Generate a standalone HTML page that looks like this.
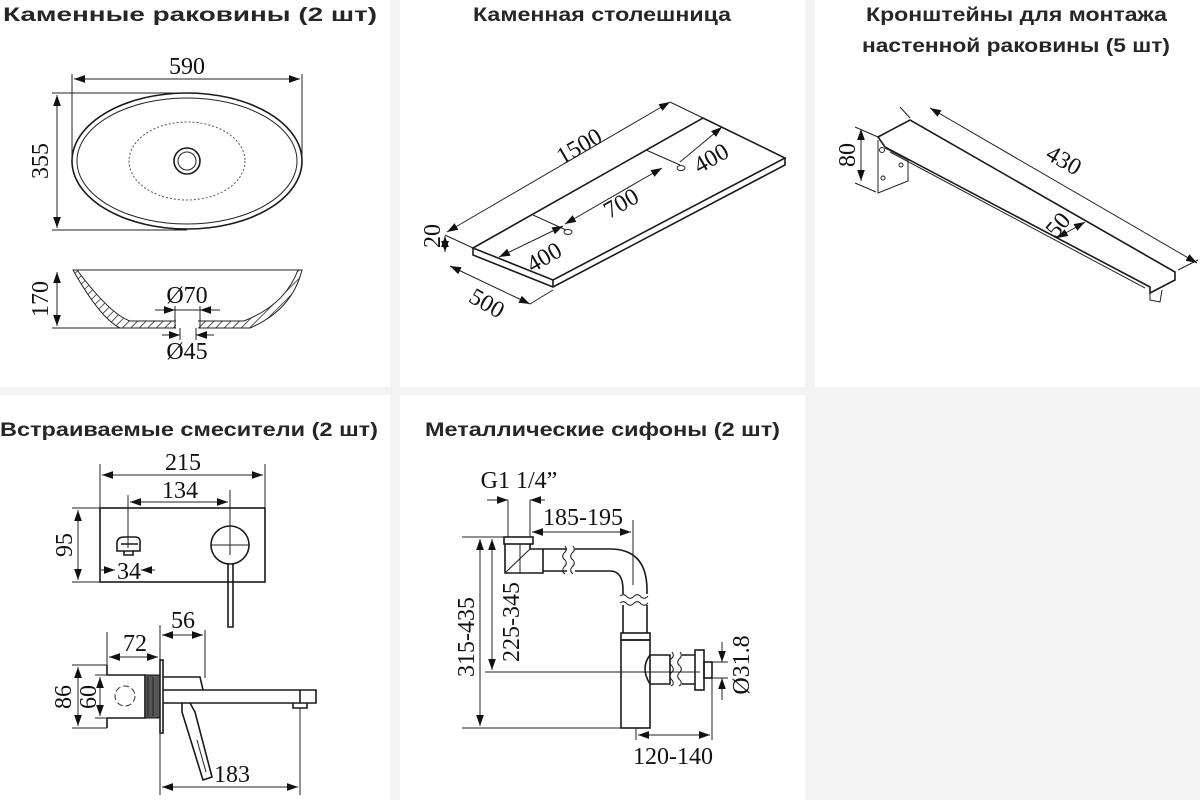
<!DOCTYPE html>
<html><head><meta charset="utf-8"><style>
html,body{margin:0;padding:0;background:#f3f3f3}
svg{display:block}
.t{font-family:"Liberation Sans","DejaVu Sans",sans-serif;font-weight:bold;font-size:19px;fill:#262626}
.d{font-family:"Liberation Serif","DejaVu Serif",serif;font-size:24px;fill:#111}
.l{stroke:#222;stroke-width:1;fill:none}
.b{stroke:#1a1a1a;stroke-width:1.6;fill:none}
</style></head><body>
<svg width="1200" height="800" viewBox="0 0 1200 800" xmlns="http://www.w3.org/2000/svg">
<defs>
<marker id="a" viewBox="0 0 10 10" refX="10" refY="5" markerWidth="11" markerHeight="11" markerUnits="userSpaceOnUse" orient="auto-start-reverse"><path d="M0,1.5 L10,5 L0,8.5z" fill="#111"/></marker>
<pattern id="h" width="6" height="6" patternUnits="userSpaceOnUse" patternTransform="rotate(45)"><rect width="6" height="6" fill="#fff"/><line x1="0" y1="0" x2="0" y2="6" stroke="#222" stroke-width="1.5"/></pattern>
</defs>
<rect width="1200" height="800" fill="#f3f3f3"/>
<rect x="0" y="0" width="390" height="387" fill="#fff"/>
<rect x="400" y="0" width="405" height="387" fill="#fff"/>
<rect x="815" y="0" width="385" height="387" fill="#fff"/>
<rect x="0" y="395" width="390" height="405" fill="#fff"/>
<rect x="400" y="395" width="405" height="405" fill="#fff"/>

<text class="t" x="3" y="21" textLength="374" lengthAdjust="spacingAndGlyphs">Каменные раковины (2 шт)</text>
<text class="t" x="473" y="21" textLength="258" lengthAdjust="spacingAndGlyphs">Каменная столешница</text>
<text class="t" x="866" y="21" textLength="301" lengthAdjust="spacingAndGlyphs">Кронштейны для монтажа</text>
<text class="t" x="862" y="52" textLength="308" lengthAdjust="spacingAndGlyphs">настенной раковины (5 шт)</text>
<text class="t" x="0" y="436" textLength="378" lengthAdjust="spacingAndGlyphs">Встраиваемые смесители (2 шт)</text>
<text class="t" x="425" y="436" textLength="355" lengthAdjust="spacingAndGlyphs">Металлические сифоны (2 шт)</text>

<!-- sink top -->
<ellipse class="b" cx="187" cy="161" rx="115" ry="68"/>
<ellipse class="l" cx="187" cy="161" rx="110" ry="63"/>
<ellipse cx="187" cy="161" rx="58" ry="39" fill="none" stroke="#555" stroke-dasharray="2,2"/>
<circle class="b" cx="187" cy="161" r="13"/><circle class="l" cx="187" cy="161" r="9"/>
<line class="l" x1="72" y1="74" x2="72" y2="160"/><line class="l" x1="302" y1="74" x2="302" y2="160"/>
<line class="l" x1="74" y1="79" x2="300" y2="79" marker-start="url(#a)" marker-end="url(#a)"/>
<text class="d" x="187" y="74" text-anchor="middle">590</text>
<line class="l" x1="52" y1="93" x2="187" y2="93"/><line class="l" x1="52" y1="230" x2="187" y2="230"/>
<line class="l" x1="57" y1="95" x2="57" y2="228" marker-start="url(#a)" marker-end="url(#a)"/>
<text class="d" transform="translate(48,161) rotate(-90)" text-anchor="middle">355</text>
<!-- sink side -->
<path d="M73,270 Q100,318 120,328 L250,328 Q292,310 302,270 Z" fill="url(#h)" stroke="#222"/>
<path d="M77,270 Q110,314 130,321 L244,321 Q285,305 298,270 Z" fill="#fff" stroke="#222"/>
<line class="l" x1="73" y1="270" x2="302" y2="270"/>
<rect x="176" y="318" width="22" height="11" fill="#fff"/>
<line class="l" x1="52" y1="328" x2="120" y2="328"/>
<line class="l" x1="57" y1="272" x2="57" y2="326" marker-start="url(#a)" marker-end="url(#a)"/>
<text class="d" transform="translate(48,299) rotate(-90)" text-anchor="middle">170</text>
<line class="l" x1="175" y1="306" x2="175" y2="328"/><line class="l" x1="200" y1="306" x2="200" y2="328"/>
<line class="l" x1="155" y1="310" x2="175" y2="310" marker-end="url(#a)"/><line class="l" x1="220" y1="310" x2="200" y2="310" marker-end="url(#a)"/>
<line class="l" x1="175" y1="310" x2="200" y2="310"/>
<text class="d" x="187" y="303" text-anchor="middle" font-size="20">Ø70</text>
<line class="l" x1="180" y1="328" x2="180" y2="340"/><line class="l" x1="196" y1="328" x2="196" y2="340"/>
<line class="l" x1="162" y1="335" x2="180" y2="335" marker-end="url(#a)"/><line class="l" x1="214" y1="335" x2="196" y2="335" marker-end="url(#a)"/>
<text class="d" x="187" y="359" text-anchor="middle" font-size="20">Ø45</text>

<!-- countertop -->
<path class="b" d="M473,248 L703,118 L785,158 L553,280 Z"/>
<path class="b" d="M473,248 L473,255 L553,287 L785,165 L785,158 M553,280 L553,287"/>
<line class="l" x1="447" y1="232" x2="670" y2="102" marker-start="url(#a)" marker-end="url(#a)"/>
<line class="l" x1="670" y1="102" x2="703" y2="118"/>
<line class="l" x1="445" y1="235" x2="473" y2="248"/>
<line class="l" x1="445" y1="236" x2="445" y2="252" marker-start="url(#a)" marker-end="url(#a)"/>
<text class="d" transform="translate(440,236) rotate(-90)" text-anchor="middle">20</text>
<text class="d" transform="translate(583,153) rotate(-30)" text-anchor="middle" font-size="27">1500</text>
<line class="l" x1="450" y1="266" x2="530" y2="304" marker-start="url(#a)" marker-end="url(#a)"/>
<line class="l" x1="530" y1="304" x2="553" y2="290"/>
<text class="d" transform="translate(483,310) rotate(30)" text-anchor="middle" font-size="27">500</text>
<line class="l" x1="533" y1="215" x2="566" y2="230"/>
<line class="l" x1="499" y1="257" x2="563" y2="226" marker-start="url(#a)" marker-end="url(#a)"/>
<line class="l" x1="565" y1="224" x2="662" y2="168" marker-start="url(#a)" marker-end="url(#a)"/>
<line class="l" x1="646" y1="150" x2="680" y2="165"/>
<line class="l" x1="680" y1="162" x2="722" y2="127" marker-end="url(#a)"/>
<ellipse class="l" cx="568" cy="232" rx="4" ry="2.5"/><ellipse class="l" cx="681" cy="168" rx="4" ry="2.5"/>
<text class="d" transform="translate(548,264) rotate(-30)" text-anchor="middle" font-size="27">400</text>
<text class="d" transform="translate(625,210) rotate(-30)" text-anchor="middle" font-size="27">700</text>
<text class="d" transform="translate(715,165) rotate(-30)" text-anchor="middle" font-size="27">400</text>

<!-- bracket -->
<path class="b" d="M878,137 L910,120 L1175,272 L1175,280 L1150,293 L1150,287 L885,147 Z"/>
<path class="l" d="M878,140 L878,193 L908,181 L908,160 L885,148 M1150,293 L1150,300 L1160,302 L1162,290"/>
<path class="l" d="M890,152 L1145,288"/>
<circle class="l" cx="882" cy="150" r="2.5"/><circle class="l" cx="883" cy="178" r="2"/><circle class="l" cx="901" cy="165" r="2"/>
<line class="l" x1="855" y1="127" x2="878" y2="137"/><line class="l" x1="855" y1="183" x2="876" y2="192"/>
<line class="l" x1="861" y1="129" x2="861" y2="181" marker-start="url(#a)" marker-end="url(#a)"/>
<text class="d" transform="translate(855,155) rotate(-90)" text-anchor="middle">80</text>
<line class="l" x1="900" y1="107" x2="910" y2="118"/><line class="l" x1="1178" y1="270" x2="1198" y2="260"/>
<line class="l" x1="930" y1="108" x2="1197" y2="263" marker-start="url(#a)" marker-end="url(#a)"/>
<text class="d" transform="translate(1060,167) rotate(30)" text-anchor="middle" font-size="27">430</text>
<line class="l" x1="1057" y1="238" x2="1085" y2="222" marker-start="url(#a)" marker-end="url(#a)"/>
<text class="d" transform="translate(1064,230) rotate(-50)" text-anchor="middle" font-size="27">50</text>

<!-- mixer front -->
<rect class="b" x="100" y="508" width="165" height="74"/>
<line class="l" x1="100" y1="464" x2="100" y2="508"/><line class="l" x1="265" y1="464" x2="265" y2="508"/>
<line class="l" x1="102" y1="475" x2="263" y2="475" marker-start="url(#a)" marker-end="url(#a)"/>
<text class="d" x="183" y="470" text-anchor="middle">215</text>
<line class="l" x1="128" y1="495" x2="128" y2="548"/><line class="l" x1="230" y1="490" x2="230" y2="555"/>
<line class="l" x1="130" y1="502" x2="228" y2="502" marker-start="url(#a)" marker-end="url(#a)"/>
<text class="d" x="180" y="498" text-anchor="middle">134</text>
<line class="l" x1="211" y1="545" x2="249" y2="545"/>
<circle class="b" cx="230" cy="545" r="19"/>
<path class="b" d="M228,564 L228,627 L233,627 L233,564"/>
<path class="b" d="M117,551 L117,542 Q118,537 124,537 L135,537 Q141,537 140,544 L140,551 Z M121,544 L138,544 M124,551 L124,555 L133,555 L133,551"/>
<line class="l" x1="72" y1="508" x2="100" y2="508"/><line class="l" x1="72" y1="582" x2="100" y2="582"/>
<line class="l" x1="78" y1="510" x2="78" y2="580" marker-start="url(#a)" marker-end="url(#a)"/>
<text class="d" transform="translate(72,545) rotate(-90)" text-anchor="middle">95</text>
<line class="l" x1="101" y1="570" x2="115" y2="570" marker-end="url(#a)"/><line class="l" x1="155" y1="570" x2="141" y2="570" marker-end="url(#a)"/>
<text class="d" x="129" y="579" text-anchor="middle">34</text>
<!-- mixer side -->
<path class="b" d="M107,665 L107,675 M107,718 L107,728"/>
<path class="b" d="M107,675 L145,675 L145,718 L107,718"/>
<rect x="145" y="675" width="15" height="43" fill="#555" stroke="#111"/>
<line class="l" x1="148" y1="677" x2="148" y2="716" stroke="#ccc"/><line class="l" x1="153" y1="677" x2="153" y2="716" stroke="#ccc"/>
<rect class="b" x="160" y="660" width="3" height="73"/>
<circle cx="125" cy="696" r="10" fill="none" stroke="#333" stroke-dasharray="6,3"/>
<path class="b" d="M163,677 L200,677 L203,690 L163,690 M163,690 L316,690 L316,703 L163,703 M300,690 L300,703 M293,703 L293,708 L307,708 L307,703"/>
<path class="b" d="M182,703 L182,712 L203,780 L212,777 L195,712 L190,703"/>
<path class="l" d="M197,740 L206,772"/>
<line class="l" x1="107" y1="632" x2="107" y2="665"/><line class="l" x1="160" y1="625" x2="160" y2="660"/><line class="l" x1="205" y1="630" x2="205" y2="678"/>
<line class="l" x1="109" y1="657" x2="158" y2="657" marker-start="url(#a)" marker-end="url(#a)"/>
<text class="d" x="135" y="651" text-anchor="middle">72</text>
<line class="l" x1="162" y1="635" x2="203" y2="635" marker-start="url(#a)" marker-end="url(#a)"/>
<text class="d" x="183" y="628" text-anchor="middle">56</text>
<line class="l" x1="72" y1="665" x2="107" y2="665"/><line class="l" x1="72" y1="728" x2="107" y2="728"/>
<line class="l" x1="95" y1="675" x2="107" y2="675"/><line class="l" x1="95" y1="718" x2="107" y2="718"/>
<line class="l" x1="78" y1="667" x2="78" y2="726" marker-start="url(#a)" marker-end="url(#a)"/>
<line class="l" x1="100" y1="677" x2="100" y2="716" marker-start="url(#a)" marker-end="url(#a)"/>
<text class="d" transform="translate(71,697) rotate(-90)" text-anchor="middle">86</text>
<text class="d" transform="translate(96,697) rotate(-90)" text-anchor="middle">60</text>
<line class="l" x1="160" y1="733" x2="160" y2="795"/><line class="l" x1="300" y1="708" x2="300" y2="795"/>
<line class="l" x1="162" y1="787" x2="298" y2="787" marker-start="url(#a)" marker-end="url(#a)"/>
<text class="d" x="232" y="782" text-anchor="middle">183</text>

<!-- siphon -->
<text class="d" x="519" y="488" text-anchor="middle" font-size="22">G1 1/4”</text>
<line class="l" x1="487" y1="500" x2="508" y2="500" marker-end="url(#a)"/><line class="l" x1="545" y1="500" x2="530" y2="500" marker-end="url(#a)"/>
<line class="l" x1="508" y1="500" x2="508" y2="537"/><line class="l" x1="530" y1="500" x2="530" y2="537"/>
<line class="l" x1="532" y1="532" x2="631" y2="532" marker-start="url(#a)" marker-end="url(#a)"/>
<text class="d" x="583" y="525" text-anchor="middle">185-195</text>
<line class="l" x1="633" y1="520" x2="633" y2="585"/>
<rect class="b" x="504" y="537" width="29" height="7"/>
<path class="b" d="M505,544 L505,573 L543,573 L543,549 L530,549 L530,544 M543,549 L543,573"/>
<path class="l" d="M505,573 L530,549 M520,544 L520,573"/>
<path class="b" d="M543,549 L567,549 M543,571 L567,571 M575,549 L610,549 Q647,549 647,590 L647,594 M575,571 L610,571 Q623,571 623,590 L623,594 M623,605 L623,633 M647,605 L647,633"/>
<path class="l" d="M565,546 q3,4 -1,7 q-3,4 1,7 q3,4 -1,7 q-3,4 1,7 M573,546 q3,4 -1,7 q-3,4 1,7 q3,4 -1,7 q-3,4 1,7"/>
<path class="l" d="M620,596 q4,-3 7,1 q4,3 7,-1 q4,-3 7,1 q4,3 7,-1 M620,603 q4,-3 7,1 q4,3 7,-1 q4,-3 7,1 q4,3 7,-1"/>
<rect class="b" x="621" y="633" width="29" height="7"/>
<rect class="b" x="621" y="640" width="29" height="88"/>
<path class="b" d="M650,655 L670,655 L670,684 L650,684 M650,655 Q640,668 650,684"/>
<path class="l" d="M672,652 q3,4 -1,7 q-3,4 1,7 q3,4 -1,7 q-3,4 1,7 q3,4 -1,6 M680,652 q3,4 -1,7 q-3,4 1,7 q3,4 -1,7 q-3,4 1,7 q3,4 -1,6"/>
<path class="b" d="M682,655 L695,655 M682,684 L695,684"/>
<rect class="b" x="695" y="650" width="9" height="40"/>
<rect class="b" x="704" y="662" width="8" height="16"/>
<line class="l" x1="462" y1="537" x2="505" y2="537"/>
<line class="l" x1="485" y1="672" x2="700" y2="672"/>
<line class="l" x1="462" y1="728" x2="621" y2="728"/>
<line class="l" x1="480" y1="539" x2="480" y2="726" marker-start="url(#a)" marker-end="url(#a)"/>
<line class="l" x1="492" y1="539" x2="492" y2="670" marker-start="url(#a)" marker-end="url(#a)"/>
<text class="d" transform="translate(474,637) rotate(-90)" text-anchor="middle">315-435</text>
<text class="d" transform="translate(519,622) rotate(-90)" text-anchor="middle">225-345</text>
<line class="l" x1="712" y1="662" x2="728" y2="662"/><line class="l" x1="712" y1="678" x2="728" y2="678"/>
<line class="l" x1="722" y1="642" x2="722" y2="662" marker-end="url(#a)"/><line class="l" x1="722" y1="700" x2="722" y2="678" marker-end="url(#a)"/>
<text class="d" transform="translate(749,665) rotate(-90)" text-anchor="middle">Ø31.8</text>
<line class="l" x1="712" y1="678" x2="712" y2="740"/><line class="l" x1="636" y1="728" x2="636" y2="740"/>
<line class="l" x1="638" y1="735" x2="710" y2="735" marker-start="url(#a)" marker-end="url(#a)"/>
<text class="d" x="673" y="764" text-anchor="middle">120-140</text>
</svg>
</body></html>
